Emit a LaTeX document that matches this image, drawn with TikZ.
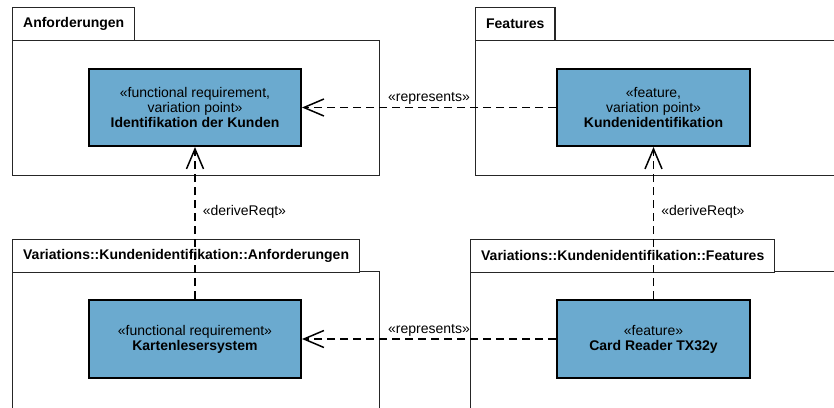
\documentclass[tikz,border=0pt]{standalone}
\usepackage{fontspec}
\setmainfont{Liberation Sans}
\usetikzlibrary{arrows.meta}
\definecolor{blockfill}{RGB}{107,170,207}
\begin{document}
\begin{tikzpicture}[x=1pt,y=-1pt,
  pkgbody/.style={draw=black!85, line width=1.3pt, fill=white, anchor=north west, inner sep=0pt},
  tab/.style={draw=black!85, line width=1.3pt, fill=white, anchor=north west, minimum height=33pt, inner xsep=10.5pt, inner ysep=0pt, font=\fontsize{14}{15}\selectfont\bfseries},
  block/.style={draw=black, line width=2pt, fill=blockfill, align=center, inner sep=0pt, font=\fontsize{14}{15}\selectfont},
  dep/.style={dash pattern=on 8pt off 5pt, line width=1.5pt, -{Straight Barb[length=20pt,width=17pt,line width=1.5pt]}},
  lbl/.style={font=\fontsize{14}{15}\selectfont}]
\useasboundingbox (0,0) rectangle (834,407);
\clip (0,0) rectangle (834,407);
\fill[white] (0,0) rectangle (834,407);
% packages
\node[pkgbody, minimum width=367pt, minimum height=135pt] (pA) at (12,40) {};
\node[tab] (tA) at (12,7) {Anforderungen};
\node[pkgbody, minimum width=420pt, minimum height=135pt] (pF) at (475,40) {};
\node[tab] (tF) at (475,7) {Features};
\node[pkgbody, minimum width=367pt, minimum height=160pt] (pVA) at (12,271) {};
\node[tab] (tVA) at (12,238.5) {Variations::Kundenidentifikation::Anforderungen};
\node[pkgbody, minimum width=420pt, minimum height=160pt] (pVF) at (470,271) {};
\node[tab] (tVF) at (470,238.5) {Variations::Kundenidentifikation::Features};
% blocks
\node[block, minimum width=212pt, minimum height=77pt] (b1) at (195,107.5)
  {«functional requirement,\\variation point»\\\textbf{Identifikation der Kunden}};
\node[block, minimum width=193pt, minimum height=77pt] (b2) at (653.5,107.5)
  {«feature,\\variation point»\\\textbf{Kundenidentifikation}};
\node[block, minimum width=212pt, minimum height=78pt] (b3) at (195,339)
  {«functional requirement»\\\textbf{Kartenlesersystem}};
\node[block, minimum width=193pt, minimum height=78pt] (b4) at (653.5,339)
  {«feature»\\\textbf{Card Reader TX32y}};
% connectors
\draw[dep] (b2.west) -- node[lbl, above, inner sep=2pt] {«represents»} (b1.east);
\draw[dep] (b4.west) -- node[lbl, above, inner sep=2pt] {«represents»} (b3.east);
\draw[dep] (b3.north) -- node[lbl, pos=0.57, right, inner xsep=7pt] {«deriveReqt»} (b1.south);
\draw[dep] (b4.north) -- node[lbl, pos=0.57, right, inner xsep=7pt] {«deriveReqt»} (b2.south);
\end{tikzpicture}
\end{document}
